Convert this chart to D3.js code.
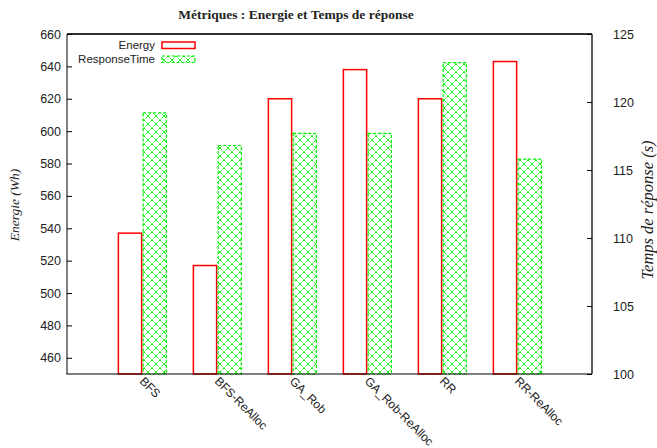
<!DOCTYPE html>
<html><head><meta charset="utf-8">
<script src="https://cdn.jsdelivr.net/npm/d3@7"></script>
<style>body{margin:0;background:#fff}svg{display:block}</style>
</head><body><svg id="c" width="657" height="448"></svg>
<script>
const categories = ["BFS","BFS-ReAlloc","GA_Rob","GA_Rob-ReAlloc","RR","RR-ReAlloc"];
const energy = [537, 517, 620, 638, 620, 643];
const responseTime = [119.2, 116.8, 117.7, 117.7, 122.9, 115.8];
const leftTicks = [460,480,500,520,540,560,580,600,620,640,660];
const rightTicks = [100,105,110,115,120,125];

const svg = d3.select("#c");
const L=67, R=592, T=34, B=374;
const x = d3.scaleLinear().domain([-1,6]).range([L,R]);
const yL = d3.scaleLinear().domain([450,660]).range([B,T]);
const yR = d3.scaleLinear().domain([100,125]).range([B,T]);
const green = "#00ee00", red = "#ff0000";

// pattern
const defs = svg.append("defs");
const p = defs.append("pattern").attr("id","hatch").attr("patternUnits","userSpaceOnUse")
  .attr("width",8).attr("height",8);
p.append("path").attr("d","M0,0L8,8M8,0L0,8").attr("stroke",green).attr("stroke-width",1)
  .attr("stroke-dasharray","2,1.5");
p.append("rect").attr("x",3.5).attr("y",3.5).attr("width",1.5).attr("height",1.5).attr("fill",green);

// title
svg.append("text").attr("x",296).attr("y",19).attr("text-anchor","middle")
  .attr("font-family","Liberation Serif, serif").attr("font-weight","bold").attr("font-size",13.5)
  .attr("fill","#222").text("Métriques : Energie et Temps de réponse");

// bars
const g = svg.append("g");
g.selectAll("rect.e").data(energy).join("rect").attr("class","e")
  .attr("x",(d,i)=>x(i-0.315)).attr("width",(d,i)=>x(i-0.005)-x(i-0.315))
  .attr("y",d=>yL(d)).attr("height",d=>B-yL(d))
  .attr("fill","none").attr("stroke",red).attr("stroke-width",1.5);
g.selectAll("rect.r").data(responseTime).join("rect").attr("class","r")
  .attr("x",(d,i)=>x(i+0.015)).attr("width",(d,i)=>x(i+0.325)-x(i+0.015))
  .attr("y",d=>yR(d)).attr("height",d=>B-yR(d))
  .attr("fill","url(#hatch)").attr("stroke",green).attr("stroke-width",1.2).attr("stroke-dasharray","3,2");

// frame
svg.append("line").attr("x1",L).attr("x2",R).attr("y1",T).attr("y2",T).attr("stroke","#333").attr("stroke-width",1.8);
svg.append("line").attr("x1",R).attr("x2",R).attr("y1",T).attr("y2",B).attr("stroke","#333").attr("stroke-width",1.6);
svg.append("line").attr("x1",L).attr("x2",L).attr("y1",T).attr("y2",B).attr("stroke","#000").attr("stroke-width",1);
svg.append("line").attr("x1",L-0.5).attr("x2",R).attr("y1",B).attr("y2",B).attr("stroke","#000").attr("stroke-width",1.2);

// left axis
const la = svg.append("g").attr("transform",`translate(${L},0)`)
  .call(d3.axisRight(yL).tickValues(leftTicks).tickSize(5).tickFormat(""));
la.select(".domain").remove();
la.selectAll("line").attr("stroke","#000");
svg.append("g").selectAll("text").data(leftTicks).join("text")
  .attr("x",61).attr("y",d=>yL(d)+4.5).attr("text-anchor","end")
  .attr("font-family","Liberation Sans, Arial, sans-serif").attr("font-size",12.5).attr("fill","#222")
  .text(d=>d);

// right axis
const ra = svg.append("g").attr("transform",`translate(${R},0)`)
  .call(d3.axisLeft(yR).tickValues(rightTicks).tickSize(5).tickFormat(""));
ra.select(".domain").remove();
ra.selectAll("line").attr("stroke","#000");
svg.append("g").selectAll("text").data(rightTicks).join("text")
  .attr("x",613).attr("y",d=>yR(d)+4.5).attr("text-anchor","start")
  .attr("font-family","Liberation Sans, Arial, sans-serif").attr("font-size",12.5).attr("fill","#222")
  .text(d=>d);

// x labels
svg.append("g").selectAll("text").data(categories).join("text")
  .attr("transform",(d,i)=>`translate(${x(i)-3},${B+8}) rotate(45)`)
  .attr("text-anchor","start")
  .attr("font-family","Liberation Sans, Arial, sans-serif").attr("font-size",12).attr("fill","#222")
  .text(d=>d);

// axis titles
svg.append("text").attr("transform","translate(19,205) rotate(-90)").attr("text-anchor","middle")
  .attr("font-family","Liberation Serif, serif").attr("font-style","italic").attr("font-size",13.5)
  .attr("fill","#222").text("Energie (Wh)");
svg.append("text").attr("transform","translate(653,210) rotate(-90)").attr("text-anchor","middle")
  .attr("font-family","Liberation Serif, serif").attr("font-style","italic").attr("font-size",16.5)
  .attr("fill","#222").text("Temps de réponse (s)");

// legend
const leg = svg.append("g");
const items = [{name:"Energy", y:49, type:"e"},{name:"ResponseTime", y:63, type:"r"}];
items.forEach(it=>{
  leg.append("text").attr("x",155).attr("y",it.y).attr("text-anchor","end")
    .attr("font-family","Liberation Sans, Arial, sans-serif").attr("font-size",11.5).attr("fill","#222").text(it.name);
  const r = leg.append("rect").attr("x",162).attr("y",it.y-7).attr("width",33).attr("height",6.5);
  if(it.type==="e") r.attr("fill","none").attr("stroke",red).attr("stroke-width",1.5);
  else r.attr("fill","url(#hatch)").attr("stroke",green).attr("stroke-width",1.2).attr("stroke-dasharray","3,2");
});
</script></body></html>
